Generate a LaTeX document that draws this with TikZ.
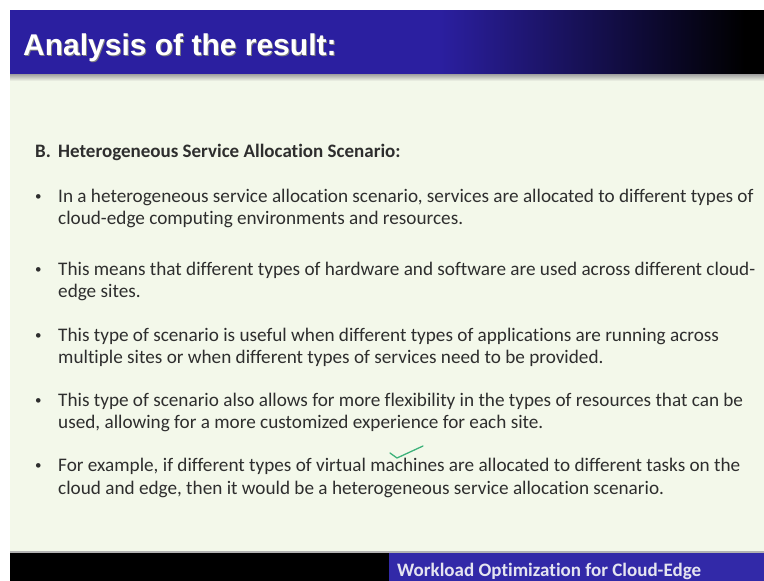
\documentclass[tikz,border=0pt]{standalone}
\usepackage{fontspec}
\setmainfont{Carlito}[Ligatures=NoCommon]
\newfontfamily\titlefont{Liberation Sans}
\definecolor{titleblue}{HTML}{2B1FA0}
\definecolor{pagebg}{HTML}{F3F8EA}
\definecolor{bodytext}{HTML}{2E2E2E}
\definecolor{footblue}{HTML}{3229A8}
\definecolor{foottext}{HTML}{E4E4F0}
\definecolor{tickgreen}{HTML}{3DB27A}
\tikzset{
  line/.style={anchor=base west, inner sep=0pt, text=bodytext,
    font=\fontsize{19.2}{21}\selectfont},
  dot/.style={anchor=base west, inner sep=0pt, text=bodytext,
    font=\fontsize{13}{15}\selectfont},
  headline/.style={line, font=\bfseries\fontsize{19}{21}\selectfont},
}
\begin{document}
\begin{tikzpicture}[x=1pt,y=-1pt]
\useasboundingbox (0,0) rectangle (764,581);
% page and body
\fill[white] (0,0) rectangle (764,581);
\fill[pagebg] (10,74) rectangle (764,553);
% title bar: blue fading to black on the right
\fill[titleblue] (10,10) rectangle (440,75);
\shade[left color=titleblue, right color=black] (439,10) rectangle (745,75);
\fill[black] (744,10) rectangle (764,75);
% soft grey shadow below the title bar
\shade[top color=gray!75, bottom color=pagebg] (10,74) rectangle (764,81);
\node[anchor=base west, inner sep=0pt, text=black!50,
  font=\titlefont\bfseries\fontsize{30}{32}\selectfont] at (24,56) {Analysis of the result:};
\node[anchor=base west, inner sep=0pt, text=white,
  font=\titlefont\bfseries\fontsize{30}{32}\selectfont] (title) at (23,55) {Analysis of the result:};
% footer
\fill[gray!60] (10,551) rectangle (764,553);
\fill[black] (10,553) rectangle (389,581);
\fill[footblue] (389,553) rectangle (764,581);
\node[anchor=base west, inner sep=0pt, text=foottext,
  font=\bfseries\fontsize{19}{21}\selectfont] (foot) at (397,576) {Workload Optimization for Cloud-Edge};
% heading
\node[headline] (hB) at (35,157) {B.};
\node[headline] (head) at (58,157) {Heterogeneous Service Allocation Scenario:};
% bullets
\node[dot] (d1) at (35,200) {•};
\node[line] (l1a) at (58,202) {In a heterogeneous service allocation scenario, services are allocated to different types of};
\node[line] (l1b) at (58,224) {cloud-edge computing environments and resources.};
\node[dot] (d2) at (35,273) {•};
\node[line] (l2a) at (58,275) {This means that different types of hardware and software are used across different cloud-};
\node[line] (l2b) at (58,297) {edge sites.};
\node[dot] (d3) at (35,339) {•};
\node[line] (l3a) at (58,341) {This type of scenario is useful when different types of applications are running across};
\node[line] (l3b) at (58,363) {multiple sites or when different types of services need to be provided.};
\node[dot] (d4) at (35,404) {•};
\node[line] (l4a) at (58,406) {This type of scenario also allows for more flexibility in the types of resources that can be};
\node[line] (l4b) at (58,428) {used, allowing for a more customized experience for each site.};
\node[dot] (d5) at (35,469) {•};
\node[line] (l5a) at (58,471) {For example, if different types of virtual machines are allocated to different tasks on the};
\node[line] (l5b) at (58,494) {cloud and edge, then it would be a heterogeneous service allocation scenario.};
% hand-drawn tick
\draw[tickgreen, line width=1.3pt, line cap=round, line join=round]
  (390,453) -- (397,458) -- (423,446);
\end{tikzpicture}
\end{document}
